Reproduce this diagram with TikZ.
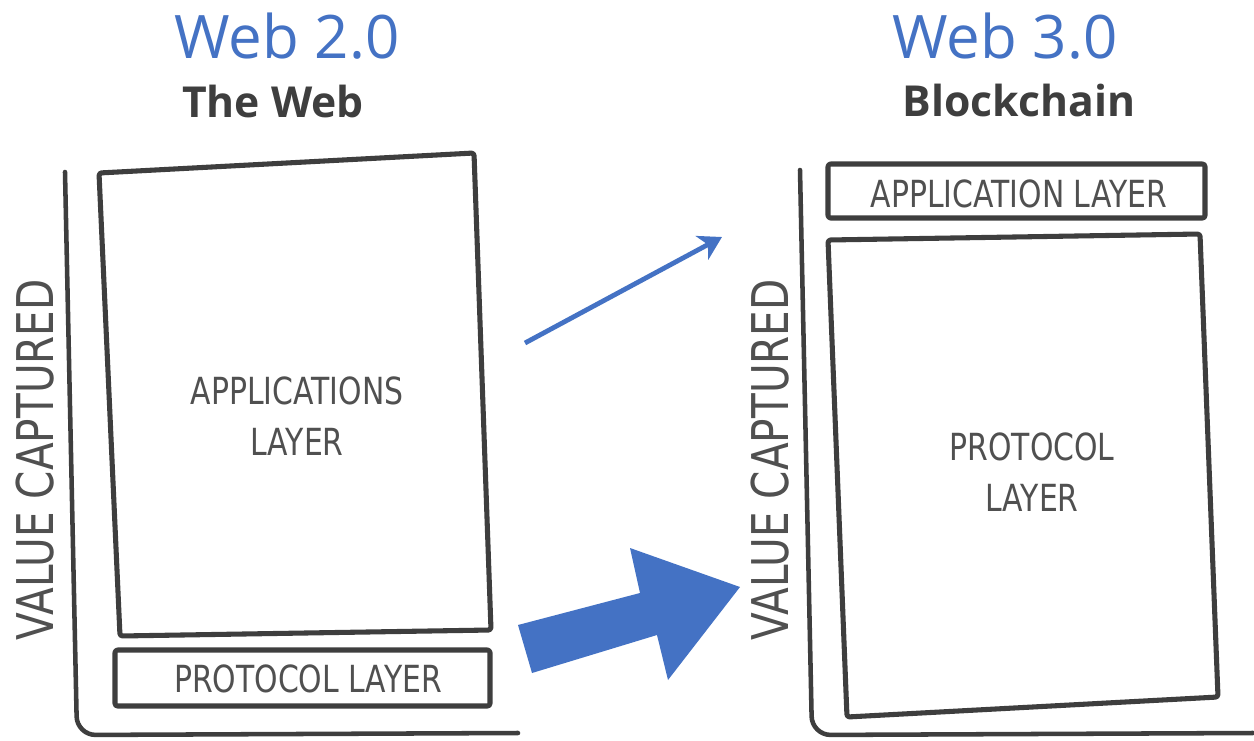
\documentclass[tikz,border=0pt]{standalone}
\usepackage{fontspec}
\setmainfont{Open Sans}
\newfontfamily\handfont[FakeStretch=0.8]{DejaVu Sans}
\usetikzlibrary{arrows.meta, positioning}
\definecolor{webblue}{RGB}{68,114,196}
\definecolor{inkgray}{RGB}{62,62,62}
\definecolor{pencil}{RGB}{80,80,80}
\tikzset{
  sketchbox/.style={draw=inkgray, line width=3.8pt, line join=round, rounded corners=2pt},
  valueaxis/.style={draw=inkgray, line width=3.4pt, line cap=round, rounded corners=14pt},
  titletext/.style={text=webblue, inner sep=0pt, font=\fontsize{45}{45}\selectfont},
  subtext/.style={text=inkgray, inner sep=0pt, font=\fontsize{32}{32}\selectfont\bfseries},
  handtext/.style={text=pencil, inner sep=0pt, align=center, font=\handfont\fontsize{28}{38}\selectfont},
  axistext/.style={text=pencil, inner sep=0pt, rotate=90, font=\handfont\fontsize{38}{38}\selectfont},
  thinarrow/.style={draw=webblue, line width=3.6pt, -{Stealth[length=17pt,width=20pt,inset=5pt]}}
}
\begin{document}
\begin{tikzpicture}[x=0.75pt,y=0.75pt,yscale=-1,xscale=1]
\useasboundingbox (0,0) rectangle (1254,740);
\fill[white] (0,0) rectangle (1254,740);

%Titles
\node[titletext] (webtwo) at (287,36) {Web 2.0};
\node[subtext] (theweb) at (273,101) {The Web};
\node[titletext] (webthree) at (1005,36) {Web 3.0};
\node[subtext] (chain) at (1019,100) {Blockchain};

%Axis: left
\draw[valueaxis] (65,172) -- (77,735) -- (518,733);
\node[axistext] (valueleft) at (35,460) {VALUE CAPTURED};
%Axis: right
\draw[valueaxis] (800,170) -- (812,735) -- (1253,733);
\node[axistext] (valueright) at (770,460) {VALUE CAPTURED};

%Shape: applications layer (web 2.0)
\draw[sketchbox] (99,173) -- (474,153) -- (491,630) -- (120,636) -- cycle;
\node[handtext] (appsleft) at (297,416) {APPLICATIONS\\LAYER};
%Shape: protocol layer (web 2.0)
\draw[sketchbox] (115,650) -- (490,650) -- (490,706) -- (115,706) -- cycle;
\node[handtext] (protoleft) at (308,679) {PROTOCOL LAYER};

%Shape: application layer (web 3.0)
\draw[sketchbox] (828,164) -- (1205,164) -- (1205,218) -- (828,218) -- cycle;
\node[handtext] (appsright) at (1019,194) {APPLICATION LAYER};
%Shape: protocol layer (web 3.0)
\draw[sketchbox] (828,240) -- (1200,234) -- (1218,697) -- (847,717) -- cycle;
\node[handtext] (protoright) at (1032,472) {PROTOCOL\\LAYER};

%Straight Lines: thin arrow
\coordinate (thinstart) at (525,343);
\coordinate (thintip) at (722,237);
\draw[thinarrow] (thinstart) -- (thintip);

%Shape: block arrow
\fill[webblue] (532,673) -- (518,625) -- (640,593) -- (630,548) -- (740,587) -- (668,680) -- (657,635) -- cycle;

\end{tikzpicture}
\end{document}
